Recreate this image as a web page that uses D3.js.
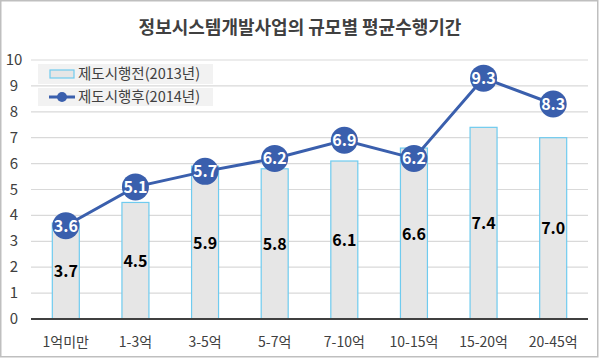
<!DOCTYPE html>
<html><head><meta charset="utf-8">
<script src="https://cdn.jsdelivr.net/npm/d3@7"></script>
<style>body{margin:0;background:#fff}svg{display:block;font-family:"Noto Sans CJK KR","Noto Sans",sans-serif}</style>
</head><body>
<svg id="c" width="601" height="358"></svg>
<script>
const categories = ["1억미만","1-3억","3-5억","5-7억","7-10억","10-15억","15-20억","20-45억"];
const before2013 = [3.7,4.5,5.9,5.8,6.1,6.6,7.4,7.0];
const after2014 = [3.6,5.1,5.7,6.2,6.9,6.2,9.3,8.3];
const yTicks = [0,1,2,3,4,5,6,7,8,9,10];
const seriesNames = ["제도시행전(2013년)","제도시행후(2014년)"];
const chartTitle = "정보시스템개발사업의 규모별 평균수행기간";

(function(){
const svg = d3.select("#c");
const pLeft = 31, pRight = 588, pTop = 60, pBottom = 319;
const x = d3.scaleBand().domain(categories).range([pLeft, pRight]);
const y = d3.scaleLinear().domain([0,10]).range([pBottom, pTop]);
const lineColor = "#3a5fad";
const textColor = "#404040";

svg.append("rect").attr("x",0.75).attr("y",0.75).attr("width",597).attr("height",356)
  .attr("fill","#fff").attr("stroke","#bfbfbf").attr("stroke-width",1.5);

svg.append("text").attr("x",300).attr("y",34).attr("text-anchor","middle")
  .attr("font-size",18).attr("font-weight","bold").attr("fill",textColor).text(chartTitle);

svg.append("g").selectAll("line").data(yTicks.filter(d=>d>0)).join("line")
  .attr("x1",pLeft).attr("x2",pRight).attr("y1",d=>y(d)).attr("y2",d=>y(d))
  .attr("stroke","#d9d9d9").attr("stroke-width",1.2);

svg.append("g").selectAll("text").data(yTicks).join("text")
  .attr("x",14).attr("y",d=>y(d)+5).attr("text-anchor","middle")
  .attr("font-size",15).attr("fill",textColor).text(d=>d);

const bw = 27;
svg.append("g").selectAll("rect").data(before2013).join("rect")
  .attr("x",(d,i)=>x(categories[i])+x.bandwidth()/2-bw/2)
  .attr("y",d=>y(d)).attr("width",bw).attr("height",d=>y(0)-y(d))
  .attr("fill","#e6e6e6").attr("stroke","#6fcbef").attr("stroke-width",1.2);

svg.append("g").selectAll("text").data(before2013).join("text")
  .attr("x",(d,i)=>x(categories[i])+x.bandwidth()/2)
  .attr("y",d=>y(d/2)+6).attr("text-anchor","middle")
  .attr("font-size",16).attr("font-weight","bold").attr("fill","#000")
  .text(d=>d.toFixed(1));

svg.append("line").attr("x1",pLeft).attr("x2",pRight).attr("y1",y(0)).attr("y2",y(0))
  .attr("stroke","#404040").attr("stroke-width",2);

svg.append("g").selectAll("text").data(categories).join("text")
  .attr("x",d=>x(d)+x.bandwidth()/2).attr("y",347).attr("text-anchor","middle")
  .attr("font-size",14).attr("fill",textColor).text(d=>d);

const line = d3.line().x((d,i)=>x(categories[i])+x.bandwidth()/2).y(d=>y(d));
svg.append("path").datum(after2014).attr("d",line).attr("fill","none")
  .attr("stroke",lineColor).attr("stroke-width",3);
const pts = svg.append("g").selectAll("g").data(after2014).join("g")
  .attr("transform",(d,i)=>`translate(${x(categories[i])+x.bandwidth()/2},${y(d)})`);
pts.append("circle").attr("r",13.5).attr("fill",lineColor);
pts.append("text").attr("y",6).attr("text-anchor","middle").attr("font-size",16)
  .attr("font-weight","bold").attr("fill","#fff").text(d=>d.toFixed(1));

const lg = svg.append("g");
lg.append("rect").attr("x",38).attr("y",64).attr("width",175).attr("height",20).attr("fill","#f2f2f2");
lg.append("rect").attr("x",38).attr("y",88).attr("width",175).attr("height",18).attr("fill","#f2f2f2");
lg.append("rect").attr("x",50).attr("y",70).attr("width",24).attr("height",8)
  .attr("fill","#e6e6e6").attr("stroke","#6fcbef").attr("stroke-width",1.2);
lg.append("text").attr("x",78).attr("y",79).attr("font-size",14.5).attr("fill",textColor).text(seriesNames[0]);
lg.append("line").attr("x1",49).attr("x2",75).attr("y1",97).attr("y2",97).attr("stroke",lineColor).attr("stroke-width",3);
lg.append("circle").attr("cx",62).attr("cy",97).attr("r",5).attr("fill",lineColor);
lg.append("text").attr("x",78).attr("y",102).attr("font-size",14.5).attr("fill",textColor).text(seriesNames[1]);
})();
</script>
</body></html>
